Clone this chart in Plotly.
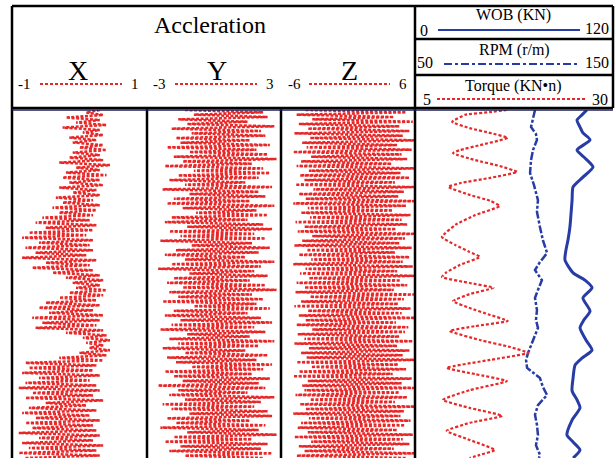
import plotly.graph_objects as go

# ---------------- data ----------------
# Acceleration tracks: sample values from top (depth 0) to bottom (depth 100)
accel_x = [0.3, 0.1, 0.35, -0.2, 0.3, -0.05, 0.4, -0.25, 0.3, 0.05, 0.35, -0.15, 0.25, -0.1,
           0.35, 0.0, 0.4, -0.1, 0.3, -0.15, 0.35, -0.3, 0.45, -0.05, 0.3, -0.2, 0.4, -0.25,
           0.3, -0.15, 0.35, -0.3, 0.25, -0.1, 0.3, -0.35, 0.2, -0.25, 0.3, -0.4, 0.25, -0.3,
           0.2, -0.55, 0.15, -0.65, 0.25, -0.5, 0.2, -0.75, 0.1, -0.85, 0.2, -0.6, 0.15, -0.8,
           0.2, -0.65, 0.1, -0.85, 0.25, -0.5, 0.15, -0.7, 0.2, -0.4, 0.3, -0.2, 0.35, -0.1,
           0.3, -0.05, 0.4, -0.15, 0.35, -0.3, 0.25, -0.5, 0.3, -0.6, 0.2, -0.45, 0.35, -0.7,
           0.3, -0.55, 0.25, -0.65, 0.35, -0.2, 0.4, 0.05, 0.45, 0.1, 0.35, 0.15, 0.45, 0.0,
           0.4, -0.3, 0.35, -0.8, 0.25, -0.75, 0.2, -0.85, 0.3, -0.6, 0.15, -0.8, 0.25, -0.9,
           0.3, -0.7, 0.2, -0.8, 0.35, -0.5, 0.1, -0.75, 0.25, -0.85, 0.15, -0.65, 0.3, -0.8,
           0.2, -0.7, 0.25, -0.9, 0.3, -0.6, 0.2, -0.85, 0.35, -0.75, 0.25, -0.9, 0.3, -0.8]

accel_y = [-1.3, 2.2, -0.9, 2.4, -1.6, 1.5, -1.2, 2.7, -1.9, 2.1, -1.0, 2.3, -1.7, 1.6, -1.5,
           2.5, -2.1, 1.9, -1.1, 2.4, -1.8, 2.8, -1.4, 1.7, -2.2, 2.2, -0.9, 2.5, -1.6, 2.0,
           -2.0, 1.4, -1.3, 2.6, -2.3, 2.0, -1.1, 2.3, -1.8, 1.6, -2.1, 2.7, -1.4, 1.9, -0.8,
           2.4, -1.9, 1.5, -2.2, 2.2, -1.2, 2.6, -2.0, 1.8, -1.5, 2.3, -2.4, 1.7, -1.0, 2.5,
           -1.7, 2.0, -2.2, 1.4, -1.3, 2.7, -1.9, 2.1, -2.5, 1.8, -1.1, 2.4, -1.8, 1.6, -2.1,
           2.3, -1.4, 2.8, -2.0, 1.7, -1.6, 2.2, -2.3, 1.9, -0.9, 2.5, -1.8, 1.5, -2.2, 2.1,
           -1.5, 2.6, -1.9, 1.8, -2.4, 2.3, -1.2, 1.6, -2.0, 2.7, -1.6, 2.0, -2.3, 1.4, -1.3,
           2.4, -2.1, 1.9, -1.7, 2.6, -1.0, 2.2, -2.2, 1.7, -1.8, 2.5, -1.4, 2.0, -2.5, 2.3,
           -1.6, 1.5, -2.0, 2.7, -1.3, 2.1, -2.3, 1.8, -1.9, 2.4, -1.1, 2.6, -2.1, 1.6, -1.7,
           2.3, -2.4, 2.0, -1.2, 2.8, -1.8, 1.7, -2.2, 2.4, -1.5, 2.1, -2.0, 2.6, -1.3, 2.2]

accel_z = [-3.8, 5.2, -4.6, 4.1, -3.2, 5.8, -4.4, 4.6, -3.6, 5.5, -4.8, 4.9, -3.4, 6.2, -4.1,
           4.4, -3.7, 5.7, -4.9, 4.8, -3.3, 5.3, -4.2, 3.9, -4.6, 6.0, -3.5, 4.7, -4.3, 5.5,
           -3.9, 4.2, -4.7, 5.9, -3.1, 5.0, -4.4, 4.5, -3.8, 6.1, -4.9, 5.2, -3.6, 4.0, -4.2,
           5.6, -3.4, 4.8, -4.7, 5.3, -3.9, 4.3, -4.5, 6.0, -3.2, 5.1, -4.1, 4.6, -4.8, 5.7,
           -3.7, 4.2, -4.4, 5.5, -3.3, 4.9, -4.9, 5.8, -3.8, 4.4, -4.3, 6.1, -3.5, 4.7, -4.6,
           5.3, -3.9, 4.1, -4.7, 5.9, -3.4, 5.0, -4.2, 4.5, -4.8, 5.6, -3.6, 4.8, -4.4, 6.0,
           -3.8, 4.3, -4.6, 5.4, -3.2, 5.1, -4.5, 4.6, -3.9, 5.8, -4.8, 4.4, -3.5, 5.5, -4.2,
           4.9, -3.7, 6.2, -4.6, 4.5, -3.3, 5.2, -4.4, 4.0, -4.9, 5.7, -3.6, 4.8, -4.1, 5.9,
           -3.9, 4.6, -4.7, 5.3, -3.4, 4.2, -4.3, 6.0, -3.8, 5.0, -4.9, 4.7, -3.5, 5.6, -4.2,
           5.1, -4.5, 4.4, -3.6, 5.8, -4.8, 4.9, -3.3, 5.5, -4.4, 4.1, -3.9, 6.1, -4.6, 5.2]

# Drilling parameters
wob_depth = [0, 1.4, 2.9, 4.9, 6.6, 8.6, 11.5, 13.8, 16.4, 19.3, 22.1, 25.9, 30.2, 33.6, 37.4,
             40.2, 43.1, 46.8, 48.9, 51.1, 54.0, 57.8, 60.3, 62.6, 66.1, 69.0, 71.3, 73.3, 77.0,
             80.7, 83.3, 85.6, 89.1, 93.4, 95.4, 97.7, 100]
wob = [104.2, 101.2, 98.2, 100.0, 101.8, 106.1, 98.2, 103.0, 107.9, 101.8, 95.8, 95.2, 94.5,
       93.9, 92.7, 91.5, 90.9, 95.8, 103.0, 107.3, 101.8, 106.1, 102.4, 100.0, 103.6, 107.3,
       101.2, 97.0, 95.8, 95.2, 98.2, 100.0, 95.2, 92.1, 95.8, 100.0, 95.8]

rpm_depth = [0, 2.3, 4.9, 6.9, 8.6, 11.5, 14.4, 18.1, 21.6, 25.9, 29.3, 33.6, 37.4, 41.1, 43.7,
             46.0, 48.9, 51.7, 54.0, 57.5, 60.3, 62.6, 66.1, 69.8, 71.8, 74.1, 77.0, 79.6, 81.9,
             84.8, 87.6, 90.5, 93.4, 96.3, 99.1, 100]
rpm = [110.6, 109.6, 108.6, 111.1, 111.6, 109.6, 108.6, 108.1, 110.1, 112.1, 111.6, 113.1,
       114.6, 116.7, 113.1, 110.6, 114.1, 112.1, 110.6, 111.6, 111.1, 112.1, 109.6, 107.1,
       106.1, 106.6, 113.1, 114.6, 116.7, 112.1, 110.6, 111.6, 112.1, 111.1, 113.1, 112.6]

torque_depth = [0, 0.6, 1.4, 3.4, 5.2, 6.6, 8.0, 10.1, 11.5, 12.4, 14.4, 16.1, 17.8, 19.5, 21.0,
                22.1, 24.4, 26.1, 27.6, 30.2, 33.0, 36.5, 38.8, 40.8, 42.2, 44.5, 46.6, 48.0,
                49.7, 51.1, 52.9, 54.9, 56.9, 58.9, 60.6, 62.1, 63.5, 66.1, 68.1, 69.8, 71.8,
                74.1, 75.9, 77.9, 80.5, 83.3, 85.6, 87.9, 89.9, 92.2, 94.8, 97.7, 99.1, 100]
torque = [16.6, 14.5, 11.3, 9.7, 11.9, 14.5, 16.7, 13.2, 10.7, 9.8, 12.6, 15.7, 17.9, 14.5, 10.7,
          9.2, 11.9, 14.5, 15.7, 12.6, 10.1, 8.4, 10.1, 11.9, 13.2, 10.7, 9.0, 8.4, 11.9, 14.9,
          11.9, 9.8, 11.9, 14.5, 16.7, 12.6, 9.4, 13.2, 17.0, 19.3, 14.5, 9.0, 12.6, 16.6, 11.9,
          8.5, 11.9, 16.0, 11.9, 9.0, 11.9, 15.1, 13.2, 11.9]

# Axis ranges / labels
range_x, range_y, range_z = [-1, 1], [-3, 3], [-6, 6]
range_wob, range_rpm, range_torque = [0, 120], [50, 150], [5, 30]
depth_range = [100, 0]

# ---------------- layout helpers ----------------
W, H = 615, 458
def px(x):
    return x / W
def py(y):
    return 1 - y / H

RED = "rgb(232,40,40)"
BLUE = "rgb(40,60,165)"
FONT = "Liberation Serif, Times New Roman, serif"

fig = go.Figure()

def accel_trace(vals, xa):
    n = len(vals)
    return go.Scatter(x=vals, y0=0, dy=100 / (n - 1), mode="lines",
                      line=dict(color=RED, width=2.5, dash="3px,1.6px"),
                      xaxis=xa, yaxis="y", showlegend=False, hoverinfo="skip")

fig.add_trace(accel_trace(accel_x, "x"))
fig.add_trace(accel_trace(accel_y, "x2"))
fig.add_trace(accel_trace(accel_z, "x3"))

fig.add_trace(go.Scatter(x=torque, y=torque_depth, mode="lines",
                         line=dict(color=RED, width=2.2, dash="3px,2px", shape="spline", smoothing=0.4),
                         xaxis="x6", yaxis="y", showlegend=False, hoverinfo="skip"))
fig.add_trace(go.Scatter(x=rpm, y=rpm_depth, mode="lines",
                         line=dict(color=BLUE, width=2.5, dash="8px,2px,3px,2px"),
                         xaxis="x5", yaxis="y", showlegend=False, hoverinfo="skip"))
fig.add_trace(go.Scatter(x=wob, y=wob_depth, mode="lines",
                         line=dict(color=BLUE, width=3, shape="spline", smoothing=0.6),
                         xaxis="x4", yaxis="y", showlegend=False, hoverinfo="skip"))

hidden = dict(showgrid=False, zeroline=False, showticklabels=False, showline=False, ticks="")
ydom = [0, py(110)]
layout = dict(
    width=W, height=H, margin=dict(l=0, r=0, t=0, b=0),
    paper_bgcolor="white", plot_bgcolor="white",
    yaxis=dict(range=depth_range, domain=ydom, **hidden),
    xaxis=dict(range=range_x, domain=[px(12), px(147)], anchor="y", **hidden),
    xaxis2=dict(range=range_y, domain=[px(147), px(281)], anchor="y", **hidden),
    xaxis3=dict(range=range_z, domain=[px(281), px(415)], anchor="y", **hidden),
    xaxis4=dict(range=range_wob, domain=[px(415), px(613)], anchor="y", **hidden),
    xaxis5=dict(range=range_rpm, domain=[px(415), px(613)], anchor="y", overlaying="x4", **hidden),
    xaxis6=dict(range=range_torque, domain=[px(415), px(613)], anchor="y", overlaying="x4", **hidden),
)
fig.update_layout(**layout)

shapes = []
def seg(x0, y0, x1, y1, color="black", width=2.5, dash="solid"):
    shapes.append(dict(type="line", xref="paper", yref="paper",
                       x0=px(x0), y0=py(y0), x1=px(x1), y1=py(y1),
                       line=dict(color=color, width=width, dash=dash)))

# frame
seg(12, 6, 613, 6)
seg(12, 6, 12, 460)
seg(613, 6, 613, 108)
seg(415, 6, 415, 460)
seg(12, 108, 613, 108)
seg(415, 39, 613, 39)
seg(415, 75, 613, 75)
seg(147, 108, 147, 460)
seg(281, 108, 281, 460)
seg(12, 110, 613, 110, color="rgb(30,30,90)", width=1.5)

# legend sample lines
seg(40, 84, 122, 84, color=RED, width=2, dash="3px,2px")
seg(175, 84, 257, 84, color=RED, width=2, dash="3px,2px")
seg(309, 84, 390, 84, color=RED, width=2, dash="3px,2px")
seg(438, 30, 580, 30, color=BLUE, width=2)
seg(444, 64, 578, 64, color=BLUE, width=2, dash="8px,3px,3px,3px")
seg(437, 99, 585, 99, color=RED, width=2, dash="3px,2px")

fig.update_layout(shapes=shapes)

annots = []
def txt(x, y, s, size):
    annots.append(dict(x=px(x), y=py(y), xref="paper", yref="paper", text=s,
                       showarrow=False, xanchor="center", yanchor="middle",
                       font=dict(family=FONT, size=size, color="black")))

txt(210, 25, "Accleration", 24)
txt(78, 70, "X", 28)
txt(217, 70, "Y", 28)
txt(349, 70, "Z", 28)
txt(24, 84, str(range_x[0]), 15)
txt(135, 84, str(range_x[1]), 15)
txt(159, 84, str(range_y[0]), 15)
txt(270, 84, str(range_y[1]), 15)
txt(294, 84, str(range_z[0]), 15)
txt(403, 84, str(range_z[1]), 15)

txt(513, 15, "WOB (KN)", 16)
txt(424, 30, str(range_wob[0]), 16)
txt(597, 29, str(range_wob[1]), 16)
txt(514, 50, "RPM (r/m)", 16)
txt(425, 63, str(range_rpm[0]), 16)
txt(597, 63, str(range_rpm[1]), 16)
txt(513, 86, "Torque (KN\u2022n)", 16)
txt(427, 99, str(range_torque[0]), 16)
txt(600, 99, str(range_torque[1]), 16)
fig.update_layout(annotations=annots)

fig.write_html("out.html", config={"displayModeBar": False},
               post_script="document.body.style.margin='0';document.body.style.overflow='hidden';")
